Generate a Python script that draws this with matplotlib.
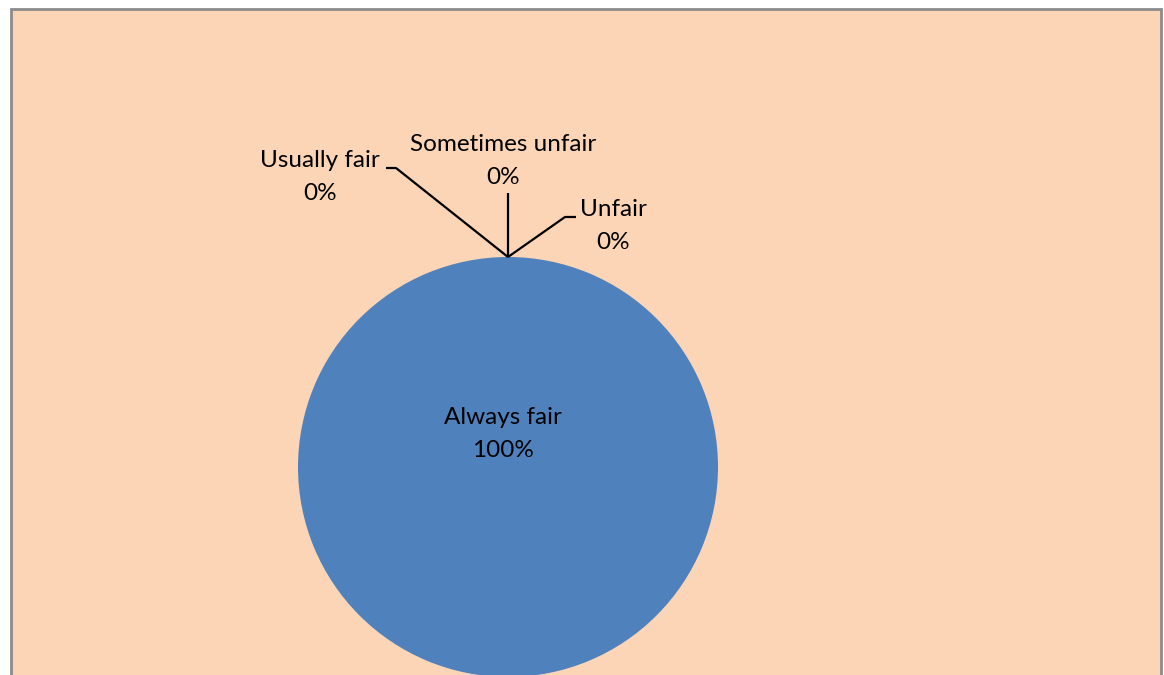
import numpy as np
import matplotlib
matplotlib.use("Agg")
import matplotlib.pyplot as plt
from matplotlib.patches import Rectangle

categories = ["Always fair", "Usually fair", "Sometimes unfair", "Unfair"]
values = [100, 0, 0, 0]
colors = ["#4F81BD", "#C0504D", "#9BBB59", "#8064A2"]

W, H = 1164, 675
fig = plt.figure(figsize=(W / 100, H / 100), dpi=100)
fig.patch.set_facecolor("white")
ax = fig.add_axes([0, 0, 1, 1])
ax.set_xlim(0, W)
ax.set_ylim(0, H)
ax.axis("off")

# chart area with grey border (bottom runs off the image)
ax.add_patch(Rectangle((11, -10), 1150, H - 9 + 10, facecolor="#FBD5B5",
                       edgecolor="#8C8C8C", linewidth=2, zorder=0))

cx, cy, r = 508, H - 467, 210
wedges, _ = ax.pie(values, colors=colors, startangle=90, counterclock=False,
                   center=(cx, cy), radius=r, frame=True,
                   wedgeprops=dict(linewidth=0))
ax.set_xlim(0, W)
ax.set_ylim(0, H)
ax.set_aspect("equal")
ax.axis("off")

font = dict(family=["Lato", "DejaVu Sans"], fontsize=17.5, color="black",
            linespacing=1.75)

total = sum(values)


def anchor(w):
    ang = np.deg2rad((w.theta1 + w.theta2) / 2)
    return cx + r * np.cos(ang), cy + r * np.sin(ang)


# label layout: (text position, leader path) in pixels from the top
layout = {
    "Usually fair": ((320, 177), [(386, 168), (396, 168)]),
    "Sometimes unfair": ((503, 161), [(508, 193)]),
    "Unfair": ((613, 226), [(576, 217), (565, 217)]),
}

for w, name, v in zip(wedges, categories, values):
    txt = f"{name}\n{v / total:.0%}"
    if name in layout:
        (tx, ty), path = layout[name]
        ax.text(tx, H - ty, txt, ha="center", va="center", **font)
        ax0, ay0 = anchor(w)
        xs = [p[0] for p in path] + [ax0]
        ys = [H - p[1] for p in path] + [ay0]
        ax.plot(xs, ys, color="black", linewidth=1.6, solid_capstyle="butt")
    else:
        ax.text(cx - 5, H - 434, txt, ha="center", va="center", **font)

fig.savefig("out.png", dpi=100, facecolor=fig.get_facecolor())
